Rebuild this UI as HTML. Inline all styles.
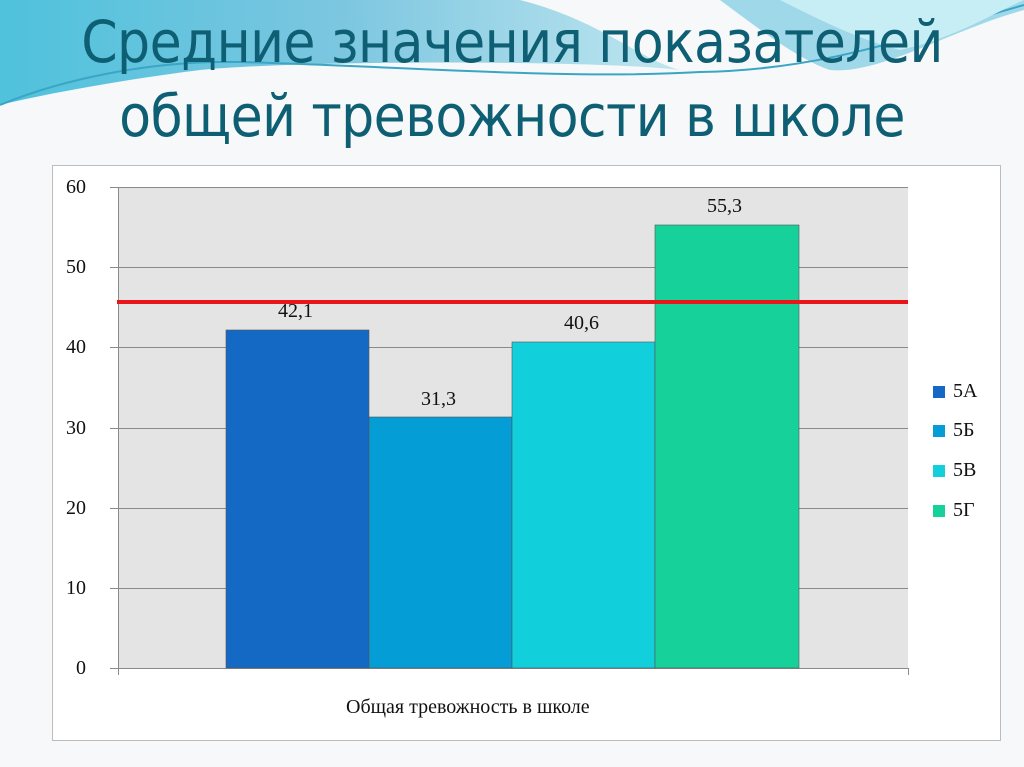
<!DOCTYPE html>
<html><head><meta charset="utf-8"><style>
body{margin:0;width:1024px;height:767px;overflow:hidden;background:#f6f8f9;position:relative;font-family:"Liberation Serif",serif}
.t{position:absolute;left:0;width:1024px;text-align:center;color:#0e5f73;font-family:"DejaVu Sans Condensed","Liberation Sans Narrow","Liberation Sans",sans-serif;font-size:58px;letter-spacing:-0.6px}
.box{position:absolute;left:52px;top:165px;width:947px;height:574px;background:#fff;border:1px solid #bcbcbc}
.lbl{position:absolute;font-size:20px;color:#111}
</style></head><body>
<svg width="1024" height="160" style="position:absolute;left:0;top:0">
<defs><linearGradient id="g" x1="0" x2="1"><stop offset="0" stop-color="#4fc2dc"/><stop offset="0.5" stop-color="#7cc6e0"/><stop offset="1" stop-color="#bfe6ef"/></linearGradient></defs>
<path d="M0,0 H720 C760,30 800,60 830,70 C880,75 950,30 1024,10 V0 Z" fill="#9fd8e8"/>
<path d="M0,0 H520 C600,20 640,60 680,70 C600,60 300,60 200,70 C120,80 40,95 0,105 Z" fill="url(#g)"/>
<path d="M0,105 C60,80 150,60 240,62 C400,66 560,80 700,72 C820,70 900,40 1024,5" fill="none" stroke="#3aa5c5" stroke-width="2"/>
<path d="M780,0 C820,20 860,40 900,50 C950,40 990,15 1024,0 Z" fill="#c8eef5"/>
</svg>
<div class="t" style="top:8px">Средние значения показателей</div>
<div class="t" style="top:82px">общей тревожности в школе</div>
<div class="box"></div>
<svg width="1024" height="767" style="position:absolute;left:0;top:0">
<rect x="118" y="187" width="790" height="481" fill="#e4e4e4"/>
<g stroke="#8a8a8a" stroke-width="1">
<line x1="110" x2="908" y1="187.5" y2="187.5"/><line x1="110" x2="908" y1="267.5" y2="267.5"/>
<line x1="110" x2="908" y1="347.5" y2="347.5"/><line x1="110" x2="908" y1="428.5" y2="428.5"/>
<line x1="110" x2="908" y1="508.5" y2="508.5"/><line x1="110" x2="908" y1="588.5" y2="588.5"/>
<line x1="110" x2="908" y1="668.5" y2="668.5"/>
<line x1="118.5" x2="118.5" y1="187" y2="675"/><line x1="908.5" x2="908.5" y1="668" y2="675"/>
</g>
<g stroke="#555" stroke-width="0.6">
<rect x="226" y="330" width="143" height="338" fill="#1469c4"/>
<rect x="369" y="417" width="143" height="251" fill="#049dd6"/>
<rect x="512" y="342" width="143" height="326" fill="#12cfdc"/>
<rect x="655" y="225" width="144" height="443" fill="#16d19a"/>
</g>
<line x1="117" x2="908" y1="302" y2="302" stroke="#e8161a" stroke-width="4"/>
<rect x="933" y="386" width="12" height="12" fill="#1469c4"/>
<rect x="933" y="425" width="12" height="12" fill="#049dd6"/>
<rect x="933" y="465" width="12" height="12" fill="#12cfdc"/>
<rect x="933" y="505" width="12" height="12" fill="#16d19a"/>
</svg>
<div class="lbl" style="left:66px;top:176px">60</div>
<div class="lbl" style="left:66px;top:256px">50</div>
<div class="lbl" style="left:66px;top:336px">40</div>
<div class="lbl" style="left:66px;top:417px">30</div>
<div class="lbl" style="left:66px;top:497px">20</div>
<div class="lbl" style="left:66px;top:577px">10</div>
<div class="lbl" style="left:76px;top:657px">0</div>
<div class="lbl" style="left:278px;top:300px">42,1</div>
<div class="lbl" style="left:421px;top:388px">31,3</div>
<div class="lbl" style="left:564px;top:312px">40,6</div>
<div class="lbl" style="left:707px;top:195px">55,3</div>
<div class="lbl" style="left:953px;top:380px">5А</div>
<div class="lbl" style="left:953px;top:419px">5Б</div>
<div class="lbl" style="left:953px;top:459px">5В</div>
<div class="lbl" style="left:953px;top:499px">5Г</div>
<div class="lbl" style="left:346px;top:696px">Общая тревожность в школе</div>
</body></html>
